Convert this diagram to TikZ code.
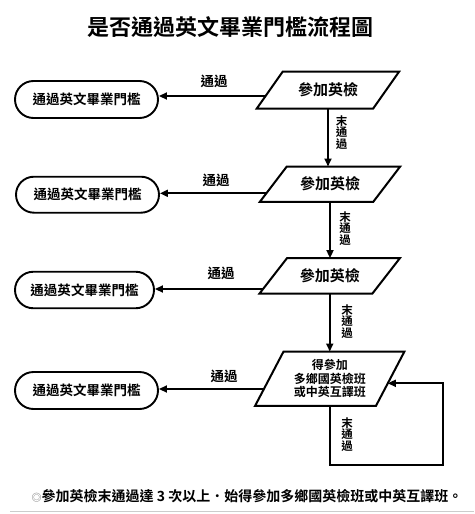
\documentclass[tikz,border=0pt]{standalone}
\usepackage{fontspec}
\setmainfont{Noto Sans CJK TC}[BoldFont={Noto Sans CJK TC Bold}]
\usetikzlibrary{arrows.meta,shapes.misc}
\tikzset{
  term/.style={rounded rectangle, draw, line width=1.9pt, inner sep=0pt, font=\bfseries\fontsize{13.5}{15}\selectfont},
  parabox/.style={inner sep=0pt, align=center},
  arr/.style={line width=1.8pt, -{Triangle[length=8pt,width=7pt]}},
  lbl/.style={font=\bfseries\fontsize{13.5}{15}\selectfont, inner sep=0pt},
  vlbl/.style={font=\bfseries\fontsize{11.5}{11.7}\selectfont, align=center, inner sep=0pt},
  pline/.style={line width=2pt, line join=miter}
}
\newcommand{\drawpara}[2]{%
  \draw[pline] ([xshift=#2]#1.north west) -- ([xshift=#2]#1.north east) -- ([xshift=-#2]#1.south east) -- ([xshift=-#2]#1.south west) -- cycle;}
\begin{document}
\begin{tikzpicture}[x=1pt,y=-1pt]
\useasboundingbox (0,0) rectangle (474,514);
\node[font=\bfseries\fontsize{22}{24}\selectfont, inner sep=0pt] (title) at (230,27) {是否通過英文畢業門檻流程圖};

% parallelograms
\node[parabox, minimum width=116pt, minimum height=36.6pt, font=\bfseries\fontsize{15}{17}\selectfont] (p1) at (328,90) {參加英檢};
\drawpara{p1}{13pt}
\node[parabox, minimum width=113pt, minimum height=35pt, font=\bfseries\fontsize{15}{17}\selectfont] (p2) at (330,184.2) {參加英檢};
\drawpara{p2}{13.5pt}
\node[parabox, minimum width=112.5pt, minimum height=35pt, font=\bfseries\fontsize{15}{17}\selectfont] (p3) at (329.75,275.8) {參加英檢};
\drawpara{p3}{13.75pt}
\node[parabox, minimum width=120.5pt, minimum height=54pt, font=\bfseries\fontsize{12}{13.5}\selectfont] (p4) at (329.75,378.7) {得參加\\多鄉國英檢班\\或中英互譯班};
\drawpara{p4}{14.25pt}

% terminals
\node[term, minimum width=143pt, minimum height=37pt] (t1) at (86.5,99.5) {通過英文畢業門檻};
\node[term, minimum width=143pt, minimum height=36pt] (t2) at (87.5,194.7) {通過英文畢業門檻};
\node[term, minimum width=139pt, minimum height=36.5pt] (t3) at (84.5,290) {通過英文畢業門檻};
\node[term, minimum width=143pt, minimum height=37pt] (t4) at (86.5,390.5) {通過英文畢業門檻};

% horizontal arrows
\draw[arr] ([xshift=-4.3pt,yshift=-6pt]p1.west) -- ([yshift=-6pt]p1.west -| t1.east);
\draw[arr] ([xshift=-7pt,yshift=-9.1pt]p2.west) -- ([yshift=-9.1pt]p2.west -| t2.east);
\draw[arr] ([xshift=-10.4pt,yshift=-13.2pt]p3.west) -- ([yshift=-13.2pt]p3.west -| t3.east);
\draw[arr] ([xshift=-5.4pt,yshift=-10.3pt]p4.west) -- ([yshift=-10.3pt]p4.west -| t4.east);

\node[lbl] (l1) at (214,81) {通過};
\node[lbl] (l2) at (216,180) {通過};
\node[lbl] (l3) at (221,273) {通過};
\node[lbl] (l4) at (224,376) {通過};

% vertical arrows
\draw[arr] (p1.south) -- (p1.south |- p2.north);
\draw[arr] (p2.south) -- (p2.south |- p3.north);
\draw[arr] (p3.south) -- (p3.south |- p4.north);

\node[vlbl] (v1) at (341.5,132.5) {末\\通\\過};
\node[vlbl] (v2) at (345,228.5) {末\\通\\過};
\node[vlbl] (v3) at (347,321.5) {末\\通\\過};
\node[vlbl] (v4) at (347,434.5) {末\\通\\過};

% loop
\coordinate (loopBR) at (443,465);
\draw[arr, line join=miter] (p4.south) |- (loopBR) |- ([xshift=-2.4pt,yshift=-4.6pt]p4.east);

% footnote
\node[font=\bfseries\fontsize{14}{16}\selectfont, inner sep=0pt] (note) at (247,496) {{\color{gray}\fontsize{10}{11}\selectfont ◎}參加英檢末通過達 3 次以上{\mdseries ・}始得參加多鄉國英檢班或中英互譯班。};
\coordinate (rl) at (10,511.7);
\coordinate (rr) at (474,511.7);
\draw[gray!40, line width=1pt] (rl) -- (rr);
\end{tikzpicture}
\end{document}
